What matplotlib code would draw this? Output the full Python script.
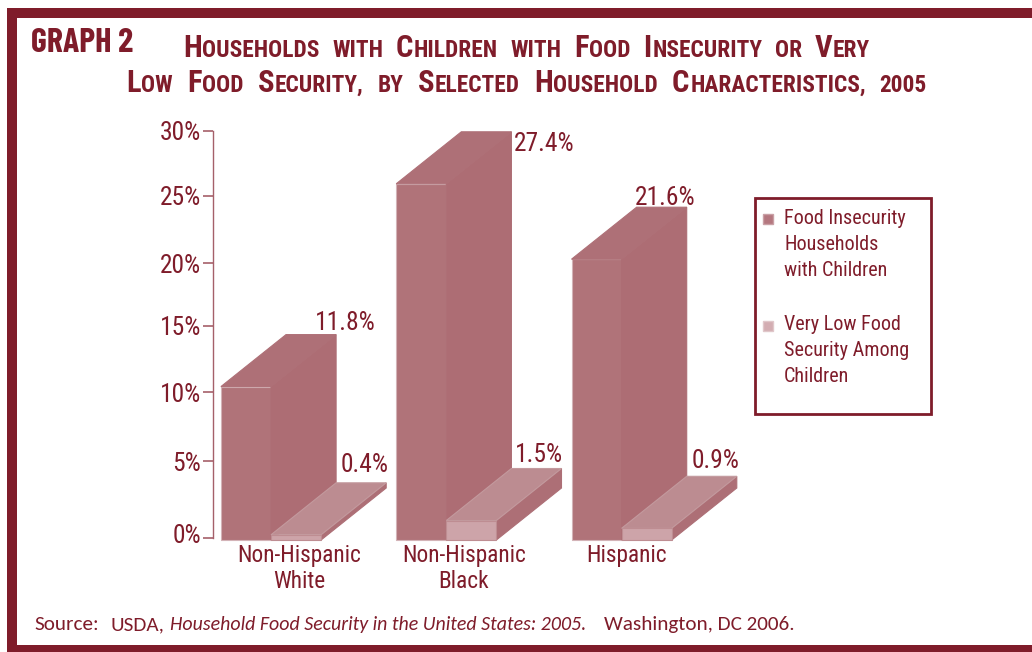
import matplotlib
matplotlib.use("Agg")
import matplotlib.pyplot as plt
from matplotlib.patches import Polygon, Rectangle, Patch
from matplotlib.legend_handler import HandlerPatch
from matplotlib.transforms import ScaledTranslation

W, H = 1032, 652
INK = "#7F1C2A"
BODY = ["Roboto Condensed", "Liberation Sans"]
BADGE = ["Barlow Condensed", "Liberation Sans"]
SRC = ["Carlito", "Lato"]

categories = ["Non-Hispanic\nWhite", "Non-Hispanic\nBlack", "Hispanic"]
food_insecurity = [11.8, 27.4, 21.6]
very_low_security = [0.4, 1.5, 0.9]
y_tick_labels = ["0%", "5%", "10%", "15%", "20%", "25%", "30%"]
# drawn position of each printed tick: the reference's axis is uneven
y_tick_positions = [0.15, 6.05, 11.35, 16.5, 21.3, 26.5, 31.5]
legend_labels = ["Food Insecurity\nHouseholds\nwith Children",
                 "Very Low Food\nSecurity Among\nChildren"]
category_x = [0.16, 1.10, 2.03]

BAR_W = 0.2857
DEPTH_X = 0.3714
DEPTH_Y = 4.0
PX_X, PX_Y = 175.3, 13.0
X0, Y0 = 271.0, 540.0

plt.rcParams["font.family"] = BODY
fig = plt.figure(figsize=(W / 100, H / 100), dpi=100)
ax = fig.add_axes([0, 0, 1, 1])
ax.set_xlim(-X0 / PX_X, (W - X0) / PX_X)
ax.set_ylim((Y0 - H) / PX_Y, Y0 / PX_Y)
ax.patch.set_alpha(0)

FRONT, SIDE, TOP = "#B07379", "#AD6D74", "#AE7077"
S_FRONT, S_SIDE, S_TOP = "#CDA4A9", "#AD6F76", "#BC8C91"
HALO = "#D3B3B7"


def poly(pts, fc, ec=None, z=3):
    ax.add_patch(Polygon(pts, closed=True, fc=fc, ec=ec or fc, lw=0.8, zorder=z))


for i, (v, s) in enumerate(zip(food_insecurity, very_low_security)):
    x0, x1 = i - BAR_W, i
    ax.bar(x0, v, BAR_W, align="edge", color=FRONT, edgecolor=HALO, lw=0.8, zorder=3)
    poly([(x1, 0), (x1, v), (x1 + DEPTH_X, v + DEPTH_Y), (x1 + DEPTH_X, DEPTH_Y)], SIDE, z=3)
    poly([(x0, v), (x1, v), (x1 + DEPTH_X, v + DEPTH_Y), (x0 + DEPTH_X, v + DEPTH_Y)], TOP, z=3)
    a, b = i, i + BAR_W
    poly([(b, 0), (b, s), (b + DEPTH_X, s + DEPTH_Y), (b + DEPTH_X, DEPTH_Y)], S_SIDE, z=4)
    poly([(a, s), (b, s), (b + DEPTH_X, s + DEPTH_Y), (a + DEPTH_X, s + DEPTH_Y)], S_TOP, "#C39A9E", z=4)
    ax.bar(a, s, BAR_W, align="edge", color=S_FRONT, edgecolor="#BE8D92", lw=0.8, zorder=5)

# value labels: offset (px) from the back-right corner of each bar top
tall_offsets = [(9, 12), (33, -12), (-22, 9)]
short_offsets = [(-22, 18), (-22, 14), (-21, 15)]
for i, (v, s) in enumerate(zip(food_insecurity, very_low_security)):
    for val, xb, off in ((v, i + DEPTH_X, tall_offsets[i]), (s, i + BAR_W + DEPTH_X, short_offsets[i])):
        ax.annotate(f"{val}%", (xb, val + DEPTH_Y), xytext=(off[0] * 0.72, off[1] * 0.72),
                    textcoords="offset points", ha="center", va="center",
                    fontsize=18.4, color=INK, zorder=8)

for name in ("top", "right"):
    ax.spines[name].set_visible(False)
ax.spines["bottom"].set_position(("data", 0))
ax.spines["bottom"].set_visible(False)
sp = ax.spines["left"]
sp.set_position(("data", (213 - X0) / PX_X))
sp.set_bounds(y_tick_positions[0], y_tick_positions[-1])
sp.set_color("#A5606A")
sp.set_linewidth(1.0)
ax.set_yticks(y_tick_positions, y_tick_labels)
ax.tick_params(axis="y", length=7.2, width=1.2, color="#A5606A", labelcolor=INK,
               labelsize=18.4, pad=1.5)
ax.set_xticks(category_x, categories)
ax.tick_params(axis="x", length=0, labelcolor=INK, labelsize=16.8, pad=3)
for t in ax.get_xticklabels():
    t.set_linespacing(1.18)
zero = ax.get_yticklabels()[0]
zero.set_transform(zero.get_transform() + ScaledTranslation(0, 3.6 / 72, fig.dpi_scale_trans))

# frame of the page: left, top, bottom bands
for (px, py, pw, ph) in [(7, 8, 10, 644), (7, 8, W - 7, 10), (7, 645, W - 7, 7)]:
    fig.add_artist(Rectangle((px / W, 1 - (py + ph) / H), pw / W, ph / H,
                             transform=fig.transFigure, fc=INK, ec="none"))


# legend box and legend
def square_swatch(legend, orig_handle, xdescent, ydescent, width, height, fontsize):
    return Rectangle((0, 1.38 * fontsize), 0.5 * fontsize, 0.5 * fontsize)


ax.add_patch(Rectangle((755 / W, 1 - 414 / H), 176 / W, 216 / H, transform=fig.transFigure,
                       fill=False, ec=INK, lw=2, zorder=6, clip_on=False))
handles = [Patch(fc="#B4777F", ec="#C9A0A5"), Patch(fc="#D3ADB2", ec="#E0C7CA")]
leg = ax.legend(handles, legend_labels, loc="upper left", bbox_to_anchor=(763 / W, 1 - 209 / H),
                bbox_transform=fig.transFigure, frameon=False, fontsize=14.5, labelcolor=INK,
                handlelength=0.5, handleheight=0.5, handletextpad=0.55, labelspacing=1.75,
                borderpad=0, borderaxespad=0,
                handler_map={Patch: HandlerPatch(patch_func=square_swatch)})
leg.set_zorder(9)
for t in leg.get_texts():
    t.set_linespacing(1.47)

renderer = fig.canvas.get_renderer()


def place_runs(runs, left, right, baseline):
    """Lay out (text, size, options) runs on a baseline, sharing spare width among the gaps."""
    items = []
    for txt, size, kw in runs:
        t = fig.text(0, 1 - baseline / H, txt, fontsize=size, color=INK,
                     family=kw.get("family", BODY), weight=kw.get("weight", "normal"),
                     style=kw.get("style", "normal"), va="baseline", ha="left", zorder=10)
        items.append((t, t.get_window_extent(renderer).width, kw.get("gap", 0)))
    gaps = sum(g for _, _, g in items) or 1
    k = (right - left - sum(w for _, w, _ in items)) / gaps
    x = left
    for t, w, g in items:
        t.set_x(x / W)
        x += w + g * k


BIG, SMALL = 22.0, 16.8


def small_caps(line):
    runs = []
    words = line.split(" ")
    for n, word in enumerate(words):
        gap = 9 if n < len(words) - 1 else 0
        if word[0].isupper() and len(word) > 1:
            runs.append((word[0], BIG, {"weight": "bold", "gap": 0.5}))
            runs.append((word[1:].upper(), SMALL, {"weight": "bold", "gap": gap}))
        elif word[0].isupper():
            runs.append((word, BIG, {"weight": "bold", "gap": gap}))
        else:
            runs.append((word.upper(), SMALL, {"weight": "bold", "gap": gap}))
    return runs


place_runs(small_caps("Households with Children with Food Insecurity or Very"), 183, 870, 57)
runs2 = small_caps("Low Food Security, by Selected Household Characteristics,")
runs2[-1][2]["gap"] = 9
runs2.append(("2005", SMALL, {"weight": "bold", "gap": 0}))
place_runs(runs2, 126, 927, 92)

fig.text(31 / W, 1 - 52 / H, "GRAPH 2", fontsize=24.5, weight="bold", color=INK, family=BADGE,
         va="baseline", ha="left", zorder=10)

place_runs([("Source:", 15.2, {"family": SRC, "gap": 2}),
            ("USDA,", 15.2, {"family": SRC, "gap": 1}),
            ("Household Food Security in the United States: 2005.", 14.3,
             {"family": SRC, "style": "italic", "gap": 3}),
            ("Washington, DC 2006.", 15.2, {"family": SRC, "gap": 0})], 34, 795, 630)

fig.savefig("out.png", dpi=100)
